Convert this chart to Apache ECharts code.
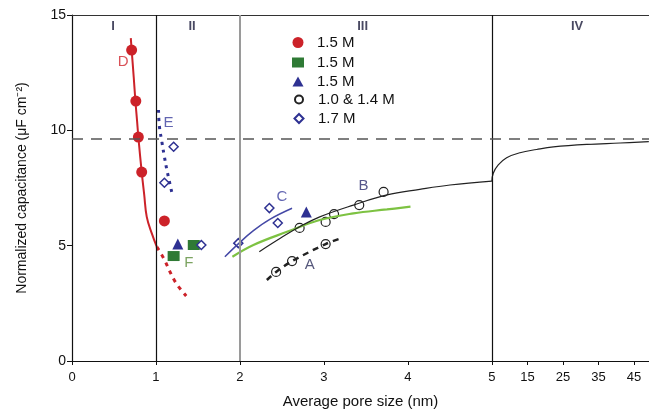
<!DOCTYPE html>
<html>
<head>
<meta charset="utf-8">
<script src="https://cdn.jsdelivr.net/npm/echarts@6/dist/echarts.min.js"></script>
<style>
html,body{margin:0;padding:0;background:#fff;}
#chart{width:649px;height:410px;}
</style>
</head>
<body>
<div id="chart"></div>
<script>
// ---- data (real pore size in nm, capacitance in µF cm^-2) ----
var xTickValues = [0, 1, 2, 3, 4, 5, 15, 25, 35, 45];
var yTickValues = [0, 5, 10, 15];
var regionNames = ['I', 'II', 'III', 'IV'];
var regionX = [0.49, 1.43, 3.46, 29];
var legendLabels = ['1.5 M', '1.5 M', '1.5 M', '1.0 & 1.4 M', '1.7 M'];

var redCurveX = [0.70, 0.71, 0.735, 0.755, 0.775, 0.79, 0.83, 0.86, 0.89, 0.95, 1.01];
var redCurveY = [14.0, 13.5, 12.3, 11.27, 10.4, 9.71, 8.19, 7.2, 6.25, 5.53, 4.95];
var redDotX = [1.01, 1.09, 1.23, 1.36];
var redDotY = [4.95, 4.46, 3.43, 2.82];
var redPtsX = [0.71, 0.76, 0.79, 0.83, 1.10];
var redPtsY = [13.48, 11.27, 9.71, 8.19, 6.07];
var greenSqX = [1.21, 1.45];
var greenSqY = [4.55, 5.03];
var triX = [1.26, 2.79];
var triY = [5.07, 6.46];
var circBX = [2.71, 3.02, 3.12, 3.42, 3.71];
var circBY = [5.77, 6.03, 6.37, 6.76, 7.33];
var circAX = [2.43, 2.62, 3.02];
var circAY = [3.86, 4.33, 5.07];
var diaX = [1.10, 1.21, 1.54, 1.98, 2.35, 2.45];
var diaY = [7.73, 9.29, 5.03, 5.11, 6.63, 5.98];
var eLineX = [1.03, 1.04, 1.07, 1.10, 1.13, 1.20];
var eLineY = [10.88, 10.19, 9.5, 8.86, 8.28, 7.12];
var cLineX = [1.82, 1.98, 2.16, 2.36, 2.62];
var cLineY = [4.52, 5.08, 5.65, 6.15, 6.62];
var gLineX = [1.91, 2.16, 2.56, 2.95, 3.35, 3.75, 4.03];
var gLineY = [4.52, 5.03, 5.60, 6.11, 6.40, 6.57, 6.69];
var bLineX = [2.23, 2.48, 2.71, 2.95, 3.35, 3.75, 4.14, 4.5, 5.0];
var bLineY = [4.74, 5.32, 5.82, 6.25, 6.76, 7.20, 7.44, 7.63, 7.80];
var ivLineX = [5.0, 5.37, 6.78, 9.14, 12.9, 17.6, 22.3, 31.7, 41.1, 49.2];
var ivLineY = [7.80, 8.14, 8.50, 8.81, 9.03, 9.17, 9.28, 9.39, 9.45, 9.51];
var aLineX = [2.32, 2.43, 2.62, 3.02, 3.18];
var aLineY = [3.51, 3.86, 4.33, 5.07, 5.29];
var limitY = 9.62;
var letterNames = ['D', 'E', 'F', 'C', 'B', 'A'];
var letterX = [0.61, 1.15, 1.39, 2.5, 3.47, 2.83];
var letterY = [12.95, 10.33, 4.27, 7.1, 7.6, 4.15];
var letterColors = ['#d0262d', '#3b3f9e', '#5b8c3a', '#3b3f9e', '#2b2d6e', '#2b2d5a'];

// ---- pore-size scale: linear up to 5 nm, compressed beyond ----
function tx(x) { return x <= 5 ? x : 5 + (x - 5) * 0.04226; }
function untx(t) { return t <= 5.0001 ? t : 5 + (t - 5) / 0.04226; }
function pts(xs, ys) { return xs.map(function (x, i) { return [tx(x), ys[i]]; }); }

var FONT = "'Liberation Sans', Arial, sans-serif";
var RED = '#cc2229', NAVY = '#2e3192';

var chart = echarts.init(document.getElementById('chart'));
var xCustom = xTickValues.map(tx);

// icon centre x = 298, text starts at x = 317
function mkLegend(idx, name, top, w, h) {
  return {
    data: [name], left: 298 - w / 2, top: top, orient: 'vertical', padding: 0,
    itemWidth: w, itemHeight: h, selectedMode: false,
    formatter: function () { return legendLabels[idx]; },
    textStyle: { fontFamily: FONT, fontSize: 15, color: '#111',
      padding: [0, 0, 0, Math.max(0, 317 - (298 + w / 2 + 5))] }
  };
}

var option = {
  animation: false,
  backgroundColor: '#fff',
  grid: { left: 72, right: 0, top: 15, bottom: 49, containLabel: false, outerBoundsMode: 'none' },
  legend: [
    mkLegend(0, 'redPts', 35, 11, 11),
    mkLegend(1, 'greenSq', 55, 12, 10),
    mkLegend(2, 'tri', 74, 11, 10),
    mkLegend(3, 'circB', 92, 8, 8),
    mkLegend(4, 'dia', 111, 9, 9)
  ],
  xAxis: [{
    type: 'value', min: 0, max: 6.87,
    name: 'Average pore size (nm)', nameLocation: 'middle', nameGap: 33,
    nameTextStyle: { fontFamily: FONT, fontSize: 15, color: '#111' },
    axisLine: { lineStyle: { color: '#111', width: 1.2 } },
    axisTick: { show: true, customValues: xCustom, length: 4, lineStyle: { color: '#111' } },
    axisLabel: { customValues: xCustom, fontFamily: FONT, fontSize: 13, color: '#111', margin: 10,
      formatter: function (v) { return String(Math.round(untx(v))); } },
    splitLine: { show: false }
  }, {
    type: 'value', position: 'top', min: 0, max: 6.87,
    axisLine: { show: true, lineStyle: { color: '#333', width: 1.2 } },
    axisTick: { show: false }, axisLabel: { show: false }, splitLine: { show: false }
  }],
  yAxis: {
    type: 'value', min: 0, max: 15, interval: 5,
    name: 'Normalized capacitance (\u03bcF cm\u207b\u00b2)', nameLocation: 'middle', nameGap: 43,
    nameTextStyle: { fontFamily: FONT, fontSize: 14, color: '#111' },
    axisLine: { show: true, lineStyle: { color: '#111', width: 1.2 } },
    axisTick: { show: true, length: 5, lineStyle: { color: '#111' } },
    axisLabel: { fontFamily: FONT, fontSize: 14, color: '#111', margin: 6 },
    splitLine: { show: false }
  },
  series: [
    { type: 'line', name: 'refs', data: [], silent: true,
      markLine: { silent: true, symbol: 'none', label: { show: false },
        data: [
          { xAxis: 1, lineStyle: { color: '#111', width: 1.2, type: 'solid' } },
          { xAxis: 2, lineStyle: { color: '#9a9a9a', width: 2, type: 'solid' } },
          { xAxis: 5, lineStyle: { color: '#111', width: 1.2, type: 'solid' } },
          { yAxis: limitY, lineStyle: { color: '#555', width: 1.5, type: [11, 8] } }
        ] } },
    { type: 'line', name: 'redCurve', data: pts(redCurveX, redCurveY), smooth: 0.4, showSymbol: false,
      lineStyle: { color: RED, width: 2 } },
    { type: 'line', name: 'redDot', data: pts(redDotX, redDotY), smooth: 0.4, showSymbol: false,
      lineStyle: { color: RED, width: 3, type: [4, 5] } },
    { type: 'line', name: 'eLine', data: pts(eLineX, eLineY), smooth: 0.4, showSymbol: false,
      lineStyle: { color: NAVY, width: 3, type: [3, 5] } },
    { type: 'line', name: 'cLine', data: pts(cLineX, cLineY), smooth: 0.4, showSymbol: false,
      lineStyle: { color: '#4549a6', width: 1.5 } },
    { type: 'line', name: 'gLine', data: pts(gLineX, gLineY), smooth: 0.4, showSymbol: false,
      lineStyle: { color: '#7dc242', width: 2.2 } },
    { type: 'line', name: 'bLine', data: pts(bLineX, bLineY), smooth: 0.4, showSymbol: false,
      lineStyle: { color: '#222', width: 1.2 } },
    { type: 'line', name: 'ivLine', data: pts(ivLineX, ivLineY), smooth: 0.4, showSymbol: false,
      lineStyle: { color: '#222', width: 1.2 } },
    { type: 'line', name: 'aLine', data: pts(aLineX, aLineY), smooth: 0.3, showSymbol: false,
      lineStyle: { color: '#222', width: 2.5, type: [6, 5] } },
    { type: 'scatter', name: 'redPts', data: pts(redPtsX, redPtsY), symbol: 'circle', symbolSize: 11,
      itemStyle: { color: RED, opacity: 1 } },
    { type: 'scatter', name: 'greenSq', data: pts(greenSqX, greenSqY), symbol: 'rect', symbolSize: [12, 10],
      itemStyle: { color: '#2f7a35', opacity: 1 } },
    { type: 'scatter', name: 'tri', data: pts(triX, triY), symbol: 'triangle', symbolSize: 11,
      itemStyle: { color: NAVY, opacity: 1 } },
    { type: 'scatter', name: 'circB', data: pts(circBX, circBY), symbol: 'circle', symbolSize: 9,
      itemStyle: { color: '#fff', borderColor: '#222', borderWidth: 1.2, opacity: 1 } },
    { type: 'scatter', name: 'circA', data: pts(circAX, circAY), symbol: 'circle', symbolSize: 9,
      itemStyle: { color: '#fff', borderColor: '#222', borderWidth: 1.2, opacity: 1 } },
    { type: 'scatter', name: 'dia', data: pts(diaX, diaY), symbol: 'diamond', symbolSize: 9,
      itemStyle: { color: '#fff', borderColor: NAVY, borderWidth: 1.5, opacity: 1 } },
    { type: 'scatter', name: 'letters', symbolSize: 0, silent: true,
      data: letterNames.map(function (n, i) {
        return { name: n, value: [tx(letterX[i]), letterY[i]],
          label: { show: true, formatter: n, color: letterColors[i], fontFamily: FONT, fontSize: 15, position: 'inside' } };
      }) },
    { type: 'scatter', name: 'regions', symbolSize: 0, silent: true,
      data: regionNames.map(function (n, i) {
        return { name: n, value: [tx(regionX[i]), 14.5],
          label: { show: true, formatter: n, color: '#1a1a3a', fontFamily: FONT, fontSize: 13, fontWeight: 'bold', position: 'inside' } };
      }) }
  ]
};
chart.setOption(option);
</script>
</body>
</html>
